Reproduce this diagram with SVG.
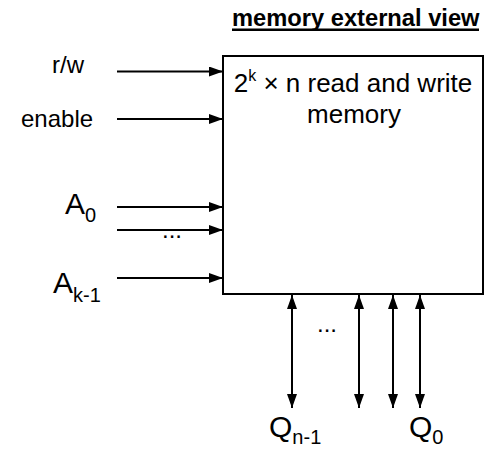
<svg xmlns="http://www.w3.org/2000/svg" width="485" height="449" viewBox="0 0 485 449">
<style>
text { font-family: "Liberation Sans", Arial, Helvetica, sans-serif; fill: #000; }
.lbl { font-size: 24px; }
.big { font-size: 30px; }
.sub { font-size: 20px; }
.box { fill: #fff; stroke: #000; stroke-width: 2; }
.wire { stroke: #000; stroke-width: 2; fill: none; }
.in { marker-end: url(#ah); }
.bi { marker-start: url(#ah); marker-end: url(#ah); }
</style>
<defs>
<marker id="ah" viewBox="0 0 14 10" refX="14" refY="5" markerWidth="14" markerHeight="10" markerUnits="userSpaceOnUse" orient="auto-start-reverse">
<path d="M0,0 L14,5 L0,10 Z" fill="#000"/>
</marker>
</defs>
<rect width="485" height="449" fill="#fff"/>
<g id="title">
<text x="232" y="26" style="font-size:23.7px;font-weight:bold">memory external view</text>
<line x1="232" y1="29.8" x2="479" y2="29.8" stroke="#000" stroke-width="2.5"/>
</g>
<g id="memory">
<rect class="box" x="223" y="56" width="260" height="238"/>
<text x="353" y="92" text-anchor="middle" style="font-size:26px">2<tspan dy="-11" style="font-size:16px">k</tspan><tspan dy="11"> × n read and write</tspan></text>
<text x="354" y="123" text-anchor="middle" style="font-size:26px">memory</text>
</g>
<g id="labels">
<text class="lbl" x="52" y="73">r/w</text>
<text class="lbl" x="21" y="127">enable</text>
<text class="big" x="65" y="214">A<tspan class="sub" dy="8">0</tspan></text>
<text class="lbl" x="162" y="238">...</text>
<text class="big" x="53" y="293">A<tspan class="sub" dy="9">k-1</tspan></text>
<text class="lbl" x="317" y="332">...</text>
<text class="big" x="269" y="437">Q<tspan class="sub" dy="7">n-1</tspan></text>
<text class="big" x="409" y="437">Q<tspan class="sub" dy="7">0</tspan></text>
</g>
<g id="connectors">
<line class="wire in" x1="117" y1="71.5" x2="223" y2="71.5"/>
<line class="wire in" x1="117" y1="119" x2="223" y2="119"/>
<line class="wire in" x1="117" y1="207" x2="223" y2="207"/>
<line class="wire in" x1="117" y1="230" x2="223" y2="230"/>
<line class="wire in" x1="117" y1="278" x2="223" y2="278"/>
<line class="wire bi" x1="292" y1="295" x2="292" y2="408"/>
<line class="wire bi" x1="359" y1="295" x2="359" y2="408"/>
<line class="wire bi" x1="393" y1="295" x2="393" y2="408"/>
<line class="wire bi" x1="420" y1="295" x2="420" y2="408"/>
</g>
</svg>
